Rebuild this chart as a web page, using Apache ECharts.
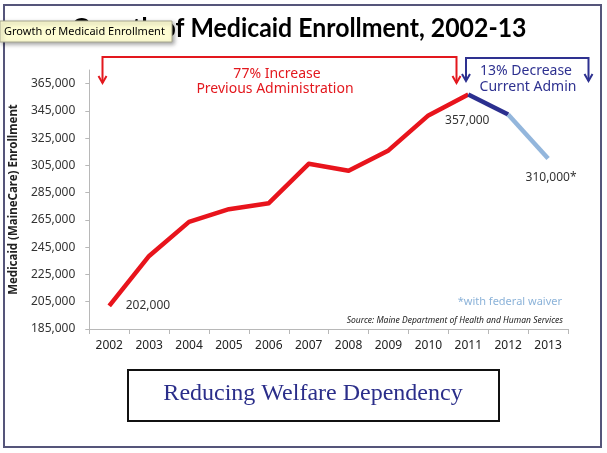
<!DOCTYPE html>
<html><head><meta charset="utf-8">
<script src="https://cdn.jsdelivr.net/npm/echarts@6/dist/echarts.min.js"></script>
<style>html,body{margin:0;padding:0;background:#fff}#c{width:607px;height:453px}</style>
</head><body><div id="c"></div>
<script>
const years = ['2002','2003','2004','2005','2006','2007','2008','2009','2010','2011','2012','2013'];
const enrollment = [202000, 238600, 263600, 272900, 277300, 306200, 301100, 316000, 341700, 357000, 342400, 310000];
const yTicks = [185000, 205000, 225000, 245000, 265000, 285000, 305000, 325000, 345000, 365000];
const segments = [
  {from: 0, to: 9, color: '#e8141c'},
  {from: 9, to: 10, color: '#2b2f8f'},
  {from: 10, to: 11, color: '#93b6dc'}
];
const pointLabels = {0: '', 9: '', 11: '*'};

const FONT = "'Noto Sans', sans-serif";
const fmt = v => v.toLocaleString('en-US');

function labelFor(i) {
  if (i === 0) return {position: 'right', distance: 16, offset: [0, 0]};
  if (i === 9) return {position: 'bottom', distance: 20, offset: [-1, 0]};
  return {position: 'bottom', distance: 12, offset: [3, 0]};
}

const series = segments.map((s, k) => ({
  type: 'line',
  symbol: 'circle',
  symbolSize: 1,
  showSymbol: true,
  itemStyle: {color: 'rgba(255,255,255,0)', borderWidth: 0},
  z: 2 + k,
  lineStyle: {color: s.color, width: 4.5, cap: 'butt', join: 'round'},
  label: {
    show: true, fontFamily: FONT, fontSize: 12, color: '#333',
    formatter: p => {
      const i = p.dataIndex;
      const owner = (i === 11 && k === 2) || ((i === 0 || i === 9) && k === 0);
      return owner && pointLabels[i] !== undefined ? fmt(p.value) + pointLabels[i] : '';
    }
  },
  data: enrollment.map((v, i) => {
    if (i < s.from || i > s.to) return null;
    if (pointLabels[i] !== undefined) return {value: v, label: labelFor(i)};
    return v;
  })
}));

function bracket(x1, x2, y, yTip, color) {
  const els = [];
  els.push({type: 'polyline', shape: {points: [[x1, yTip], [x1, y], [x2, y], [x2, yTip]]},
    style: {stroke: color, lineWidth: 2, fill: null}});
  [x1, x2].forEach(x => {
    els.push({type: 'polyline', shape: {points: [[x - 4, yTip - 7], [x, yTip], [x + 4, yTip - 7]]},
      style: {stroke: color, lineWidth: 2, fill: null}});
  });
  return els;
}

const chart = echarts.init(document.getElementById('c'));
chart.setOption({
  backgroundColor: '#ffffff',
  animation: false,
  grid: {left: 89, right: 39, top: 70, bottom: 124},
  xAxis: {
    type: 'category', data: years, boundaryGap: true,
    axisLine: {lineStyle: {color: '#b8b8b8', width: 1}},
    axisTick: {show: true, length: 5, lineStyle: {color: '#b8b8b8'}},
    axisLabel: {fontFamily: FONT, fontSize: 12, color: '#222', margin: 11}
  },
  yAxis: {
    type: 'value', min: 185000, max: 375000,
    name: 'Medicaid (MaineCare) Enrollment', nameLocation: 'middle', nameGap: 68,
    nameTextStyle: {fontFamily: FONT, fontSize: 11.5, fontWeight: 'bold', color: '#222'},
    axisLine: {show: true, lineStyle: {color: '#b8b8b8', width: 1}},
    axisTick: {show: true, length: 4, customValues: yTicks, lineStyle: {color: '#b8b8b8'}},
    axisLabel: {customValues: yTicks, fontFamily: FONT, fontSize: 12, color: '#333', margin: 14,
      formatter: v => fmt(v)},
    splitLine: {show: false}
  },
  series: series,
  graphic: [
    {type: 'rect', shape: {x: 4, y: 5, width: 597, height: 442},
      style: {fill: null, stroke: '#55557a', lineWidth: 2}, z: 1},
    {type: 'text', x: 299, y: 28, z: 5,
      style: {text: 'Growth of Medicaid Enrollment, 2002-13', font: "bold 27px Lato, sans-serif", fill: '#000', textAlign: 'center', textVerticalAlign: 'middle'},
      scaleX: 0.92, originX: 0},
    {type: 'rect', shape: {x: 0, y: 21, width: 172, height: 21}, z: 20,
      style: {fill: '#fdfcd2', stroke: '#a8a890', lineWidth: 1, shadowBlur: 4, shadowOffsetX: 2, shadowOffsetY: 2, shadowColor: 'rgba(0,0,0,0.35)'}},
    {type: 'text', x: 4, y: 31.5, z: 21,
      style: {text: 'Growth of Medicaid Enrollment', font: "11px 'Noto Sans', sans-serif", fill: '#000', textVerticalAlign: 'middle'}},
    ...bracket(102.5, 456.5, 57, 83, '#e3181e').map(e => Object.assign(e, {z: 5})),
    ...bracket(466, 588.5, 58, 81, '#2e3190').map(e => Object.assign(e, {z: 5})),
    {type: 'text', x: 277, y: 74, z: 6,
      style: {text: '77% Increase', font: "14px 'Noto Sans', sans-serif", fill: '#e3181e', textAlign: 'center', textVerticalAlign: 'middle'}},
    {type: 'text', x: 275, y: 89, z: 6,
      style: {text: 'Previous Administration', font: "14px 'Noto Sans', sans-serif", fill: '#e3181e', textAlign: 'center', textVerticalAlign: 'middle'}},
    {type: 'text', x: 526, y: 71, z: 6,
      style: {text: '13% Decrease', font: "14px 'Noto Sans', sans-serif", fill: '#2e3190', textAlign: 'center', textVerticalAlign: 'middle'}},
    {type: 'text', x: 528, y: 87, z: 6,
      style: {text: 'Current Admin', font: "14px 'Noto Sans', sans-serif", fill: '#2e3190', textAlign: 'center', textVerticalAlign: 'middle'}},
    {type: 'text', x: 562, y: 302, z: 6,
      style: {text: '*with federal waiver', font: "11px 'Noto Sans', sans-serif", fill: '#8cb3d9', textAlign: 'right', textVerticalAlign: 'middle'}},
    {type: 'text', x: 563, y: 321, z: 6,
      style: {text: 'Source: Maine Department of Health and Human Services', font: "italic 8.5px 'Noto Sans', sans-serif", fill: '#222', textAlign: 'right', textVerticalAlign: 'middle'}},
    {type: 'rect', shape: {x: 128, y: 370, width: 371, height: 51}, z: 5,
      style: {fill: '#fff', stroke: '#111', lineWidth: 2}},
    {type: 'text', x: 313, y: 394, z: 6,
      style: {text: 'Reducing Welfare Dependency', font: "24px 'Liberation Serif', serif", fill: '#2b2e8a', textAlign: 'center', textVerticalAlign: 'middle'}}
  ]
});
</script></body></html>
